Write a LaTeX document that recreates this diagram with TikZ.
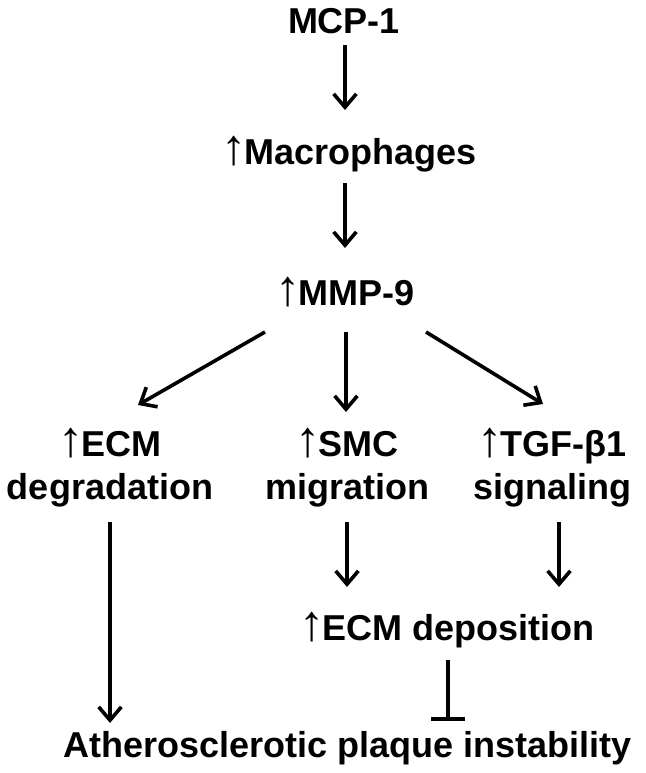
\documentclass[tikz,border=0pt]{standalone}
\usepackage{graphicx}
\usepackage{fontspec}
\setmainfont{Liberation Sans}
\newfontfamily\uparrowfont{Liberation Sans}
\usetikzlibrary{arrows.meta,calc}
\newcommand{\upar}{{\normalfont\uparrowfont\scalebox{1.4}[1.4]{↑}\kern-1.5pt}}
\begin{document}
\begin{tikzpicture}[x=0.75pt,y=-0.75pt,
  lbl/.style={inner sep=0pt,outer sep=0pt,align=center,
    font=\fontsize{27}{32.25}\selectfont\bfseries},
  arr/.style={line width=2.7pt,-{Straight Barb[length=10pt,width=17pt]}},
  inh/.style={line width=2.7pt,-{Bar[width=25pt]}}]
\useasboundingbox (0,0) rectangle (645,773);
\fill[white] (0,0) rectangle (645,773);

\node[lbl,anchor=base] (mcp) at (344,34) {MCP-1};
\node[lbl,anchor=base] (mac) at (349,165) {\upar Macrophages};
\node[lbl,anchor=base] (mmp) at (345,305) {\upar MMP-9};
\node[lbl,anchor=south] (ecm) at (110,507.5) {\upar ECM\\degradation};
\node[lbl,anchor=south] (smc) at (347,507.5) {\upar SMC\\migration};
\node[lbl,anchor=south] (tgf) at (552,507.5) {\upar TGF-β1\\signaling};
\node[lbl,anchor=base] (dep) at (447,640) {\upar ECM deposition};
\node[lbl,anchor=base] (ath) at (347.5,757) {Atherosclerotic plaque instability};

\draw[arr] ($(mcp.base)+(1,11)$) -- ($(mac.base)+(-4,-55)$);
\draw[arr] ($(mac.base)+(-4,18)$) -- ($(mmp.base)+(0,-57)$);
\draw[arr] ($(mmp.base)+(-80,27)$) -- ($(ecm.south)+(28,-102.5)$);
\draw[arr] ($(mmp.base)+(1,27)$) -- ($(smc.south)+(-1,-95.5)$);
\draw[arr] ($(mmp.base)+(81,27)$) -- ($(tgf.south)+(-9,-103.5)$);
\draw[arr] ($(ecm.south)+(0,14.5)$) -- ($(ath.base)+(-237.5,-34)$);
\draw[arr] ($(smc.south)+(0,14.5)$) -- ($(dep.base)+(-100,-53)$);
\draw[arr] ($(tgf.south)+(7,14.5)$) -- ($(dep.base)+(112,-53)$);
\draw[inh] ($(dep.base)+(1,20)$) -- ($(ath.base)+(100.5,-36)$);
\end{tikzpicture}
\end{document}
